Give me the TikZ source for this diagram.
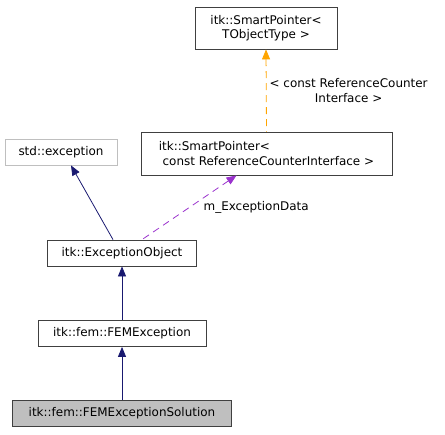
\documentclass[tikz,border=0pt]{standalone}
\usepackage{fontspec}
\setmainfont{DejaVu Sans}
\usetikzlibrary{arrows.meta,positioning}
\definecolor{cLine}{HTML}{404040}
\definecolor{cExt}{HTML}{BFBFBF}
\definecolor{cInh}{HTML}{191970}
\definecolor{cUse}{HTML}{9A32CD}
\definecolor{cTpl}{HTML}{FFA500}
\tikzset{
  cls/.style    = {rectangle, draw=cLine, line width=0.8pt, fill=white,
                   font=\fontsize{12}{14.5}\selectfont, inner sep=2pt,
                   minimum height=26bp},
  extcls/.style = {cls, draw=cExt, text=black},
  curcls/.style = {cls, fill=cExt},
  inh/.style    = {{Triangle[length=10bp,width=8bp]}-, draw=cInh, line width=0.8pt},
  use/.style    = {{Triangle[length=10bp,width=8bp]}-, draw=cUse, line width=0.8pt, dash pattern=on 7bp off 5bp},
  tpl/.style    = {{Triangle[length=10bp,width=8bp]}-, draw=cTpl, line width=0.8pt, dash pattern=on 7bp off 5bp},
  lbl/.style    = {font=\fontsize{12}{15}\selectfont, inner sep=2pt, align=center},
}
\begin{document}
\begin{tikzpicture}[x=1bp, y=-1bp]
  \useasboundingbox (0,0) rectangle (445,435);

  \node[cls, minimum width=142bp, minimum height=42bp, align=center] (spt) at (266,28) {itk::SmartPointer<\\ TObjectType >};
  \node[extcls, minimum width=112bp] (sexc) at (61,152) {std::exception};
  \node[cls, minimum width=251bp, minimum height=43bp, align=left] (spr) at (266.5,153.5) {itk::SmartPointer<\\ \ const ReferenceCounterInterface >};
  \node[cls, minimum width=149bp] (eo) at (122,253) {itk::ExceptionObject};
  \node[cls, minimum width=168bp] (fem) at (122,333.5) {itk::fem::FEMException};
  \node[curcls, minimum width=219bp] (sol) at (122,413) {itk::fem::FEMExceptionSolution};

  \draw[tpl] (spt.south) -- node[lbl, pos=0.5, right=1bp] {< const ReferenceCounter\\Interface >} (spr.north);
  \draw[inh] ([xshift=10bp]sexc.south) -- ([xshift=-9bp]eo.north);
  \draw[use] ([xshift=-30bp]spr.south) -- node[lbl, pos=0.5, anchor=west, xshift=12bp] {m\_ExceptionData} ([xshift=20bp]eo.north);
  \draw[inh] (eo.south) -- (fem.north);
  \draw[inh] (fem.south) -- (sol.north);
\end{tikzpicture}
\end{document}
